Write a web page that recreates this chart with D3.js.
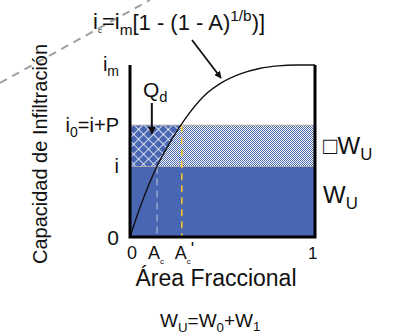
<!DOCTYPE html>
<html lang="es">
<head>
<meta charset="UTF-8">
<title>Capacidad de Infiltración</title>
<script src="https://d3js.org/d3.v7.min.js"></script>
<style>
    body { margin: 0; background: #fff; }
    text { font-family: "Liberation Sans", Arial, sans-serif; fill: #111; }
</style>
</head>
<body>
<script>
    // curve: fractional area vs infiltration capacity (fraction of im)
    var areaFrac = [0, 0.05, 0.1, 0.15, 0.2, 0.25, 0.3, 0.4, 0.5, 0.6, 0.7, 0.8, 0.9, 1];
    var capacity = [0, 0.16, 0.30, 0.42, 0.52, 0.61, 0.69, 0.82, 0.90, 0.95, 0.98, 0.995, 1, 1];

    // levels on the y axis and marks on the x axis
    var levelI = 0.41, levelI0 = 0.65;
    var acVal = 0.146, acPrime = 0.28;

    var width = 398, height = 336;
    var blue = "#4966b3";

    var svg = d3.select("body").append("svg")
        .attr("width", width)
        .attr("height", height);

    var x = d3.scaleLinear().domain([0, 1]).range([130, 315]);
    var y = d3.scaleLinear().domain([0, 1]).range([237, 65]);

    var pts = areaFrac.map((a, k) => ({ a: a, v: capacity[k] }));

    var defs = svg.append("defs");

    // fine dots for the band right of the curve
    var dots = defs.append("pattern")
        .attr("id", "dots").attr("patternUnits", "userSpaceOnUse")
        .attr("width", 2).attr("height", 2);
    dots.append("rect").attr("width", 2).attr("height", 2).attr("fill", "#fff");
    dots.append("rect").attr("width", 1).attr("height", 1).attr("fill", blue);
    dots.append("rect").attr("x", 1).attr("y", 1).attr("width", 1).attr("height", 1).attr("fill", blue);

    // diamond cross hatch for Qd
    var hatch = defs.append("pattern")
        .attr("id", "hatch").attr("patternUnits", "userSpaceOnUse")
        .attr("width", 7).attr("height", 7)
        .attr("patternTransform", "rotate(45)");
    hatch.append("rect").attr("width", 7).attr("height", 7).attr("fill", blue);
    hatch.append("path").attr("d", "M0,0H7M0,0V7").attr("stroke", "#fff").attr("stroke-width", 1.5);

    // clip: region left of / above the curve
    var above = d3.area()
        .x(d => x(d.a))
        .y0(y(1))
        .y1(d => y(d.v))
        .curve(d3.curveMonotoneX);
    defs.append("clipPath").attr("id", "leftOfCurve")
        .append("path").attr("d", above(pts));

    defs.append("marker")
        .attr("id", "arrow").attr("viewBox", "0 0 10 10")
        .attr("refX", 9).attr("refY", 5)
        .attr("markerWidth", 4).attr("markerHeight", 4)
        .attr("markerUnits", "strokeWidth")
        .attr("orient", "auto")
        .append("path").attr("d", "M0,0L10,5L0,10Z").attr("fill", "#111");

    // stray dashed guide line in the upper left
    svg.append("line")
        .attr("x1", 0).attr("y1", 83).attr("x2", 150).attr("y2", 0)
        .attr("stroke", "#a0a0a0").attr("stroke-width", 2)
        .attr("stroke-dasharray", "8,6");

    // W_U block
    svg.append("rect")
        .attr("x", x(0)).attr("y", y(levelI))
        .attr("width", x(1) - x(0)).attr("height", y(0) - y(levelI))
        .attr("fill", blue);

    // dotted band between i and i0
    svg.append("rect")
        .attr("x", x(0)).attr("y", y(levelI0))
        .attr("width", x(1) - x(0)).attr("height", y(levelI) - y(levelI0))
        .attr("fill", "url(#dots)");

    // Qd hatch, left of the curve
    svg.append("rect")
        .attr("clip-path", "url(#leftOfCurve)")
        .attr("x", x(0)).attr("y", y(levelI0))
        .attr("width", x(acPrime) - x(0)).attr("height", y(levelI) - y(levelI0))
        .attr("fill", "url(#hatch)");

    [levelI0, levelI].forEach(v => {
        svg.append("line")
            .attr("x1", x(0)).attr("x2", x(1))
            .attr("y1", y(v)).attr("y2", y(v))
            .attr("stroke", "#a8a8a8").attr("stroke-width", 1);
    });

    // dashed marks for Ac and Ac'
    svg.append("line")
        .attr("x1", x(acVal)).attr("x2", x(acVal))
        .attr("y1", y(levelI)).attr("y2", y(0))
        .attr("stroke", "#9aa6cf").attr("stroke-width", 1.5)
        .attr("stroke-dasharray", "7,5");
    svg.append("line")
        .attr("x1", x(acPrime)).attr("x2", x(acPrime))
        .attr("y1", y(levelI0)).attr("y2", y(0))
        .attr("stroke", "#f2c42a").attr("stroke-width", 1.6)
        .attr("stroke-dasharray", "7,5");

    // the curve
    var line = d3.line()
        .x(d => x(d.a))
        .y(d => y(d.v))
        .curve(d3.curveMonotoneX);
    svg.append("path")
        .attr("d", line(pts))
        .attr("fill", "none")
        .attr("stroke", "#111")
        .attr("stroke-width", 1.4);

    // frame: left, bottom and right sides
    svg.append("path")
        .attr("d", "M" + x(0) + "," + y(1) + "V" + y(0) + "H" + x(1) + "V" + y(1))
        .attr("fill", "none")
        .attr("stroke", "#000")
        .attr("stroke-width", 3);

    // text with sub / superscripts; parts = [text, kind, dy]
    function label(tx, ty, parts, size, anchor, subScale) {
        var sc = subScale || 0.7;
        var t = svg.append("text")
            .attr("x", tx).attr("y", ty)
            .attr("font-size", size)
            .attr("text-anchor", anchor || "start");
        parts.forEach(p => {
            var s = t.append("tspan").text(p[0]);
            if (p[1] === "sub") s.attr("font-size", size * sc).attr("dy", size * 0.25);
            if (p[1] === "sup") s.attr("font-size", size * 0.7).attr("dy", -size * 0.4);
            if (p[1] === "back") s.attr("dy", p[2]);
        });
        return t;
    }

    label(119, y(1) + 6, [["i"], ["m", "sub"]], 20, "end");
    label(119, y(levelI0) + 7, [["i"], ["0", "sub"], ["=i+P", "back", -5]], 20, "end");
    label(119, y(levelI) + 7, [["i"]], 20, "end");
    label(119, y(0) + 8, [["0"]], 21, "end");

    // x tick labels
    label(x(0) - 3, 259, [["0"]], 18);
    label(x(acVal) - 9, 259, [["A"], ["c", "sub"]], 18, "start", 0.45);
    label(x(acPrime) - 7, 259, [["A"], ["c", "sub"], ["'", "back", -9]], 18, "start", 0.45);
    label(x(1) - 7, 259, [["1"]], 17);

    svg.append("text")
        .attr("x", 216).attr("y", 286)
        .attr("font-size", 23)
        .attr("text-anchor", "middle")
        .text("Área Fraccional");

    svg.append("text")
        .attr("transform", "translate(47,154) rotate(-90)")
        .attr("font-size", 20)
        .attr("text-anchor", "middle")
        .text("Capacidad de Infiltración");

    // right side labels
    label(323, 154, [["□W"], ["U", "sub"]], 24);
    label(323, 203, [["W"], ["U", "sub"]], 24);

    // Qd with its arrow
    label(143, 97, [["Q"], ["d", "sub"]], 21);
    svg.append("line")
        .attr("x1", x(0.118)).attr("y1", 103)
        .attr("x2", x(0.118)).attr("y2", 134)
        .attr("stroke", "#111").attr("stroke-width", 2)
        .attr("marker-end", "url(#arrow)");

    // formula and pointer to the curve
    var formula = label(93, 29, [["i"], ["c", "sub"], ["=i", "back", -4], ["m", "sub"], ["[1 - (1 - A)", "back", -5], ["1/b", "sup"], [")]", "back", 9]], 22, "start", 0.7);
    formula.select("tspan:nth-child(2)").attr("font-size", 8).attr("dy", 4);
    svg.append("line")
        .attr("x1", 192).attr("y1", 40)
        .attr("x2", 221).attr("y2", 78)
        .attr("stroke", "#111").attr("stroke-width", 1.8)
        .attr("marker-end", "url(#arrow)");

    // bottom relation
    label(160, 327, [["W"], ["U", "sub"], ["=W", "back", -5], ["0", "sub"], ["+W", "back", -5], ["1", "sub"]], 19);
</script>
</body>
</html>
